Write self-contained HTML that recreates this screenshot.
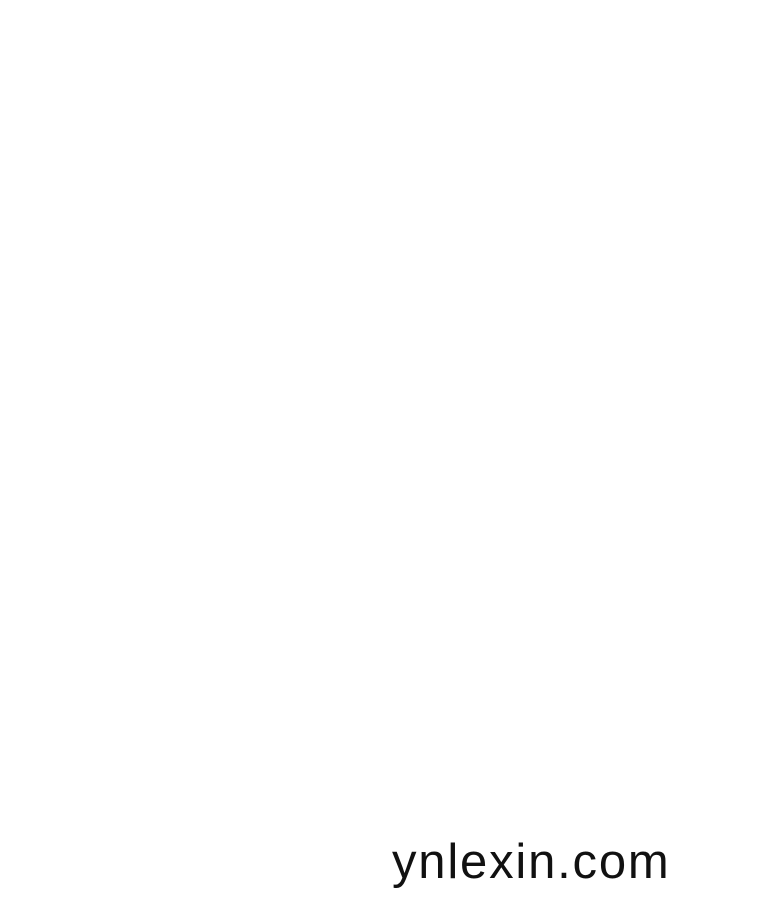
<!DOCTYPE html>
<html><head><meta charset="utf-8"><style>
html,body{margin:0;padding:0;background:#fff;width:783px;height:907px;overflow:hidden;position:relative}
.t{position:absolute;left:392px;top:834px;font-family:"Liberation Sans",sans-serif;font-size:49px;line-height:56px;letter-spacing:1.8px;color:#111;white-space:nowrap}
</style></head><body>
<div class="t">ynlexin.com</div>
</body></html>
